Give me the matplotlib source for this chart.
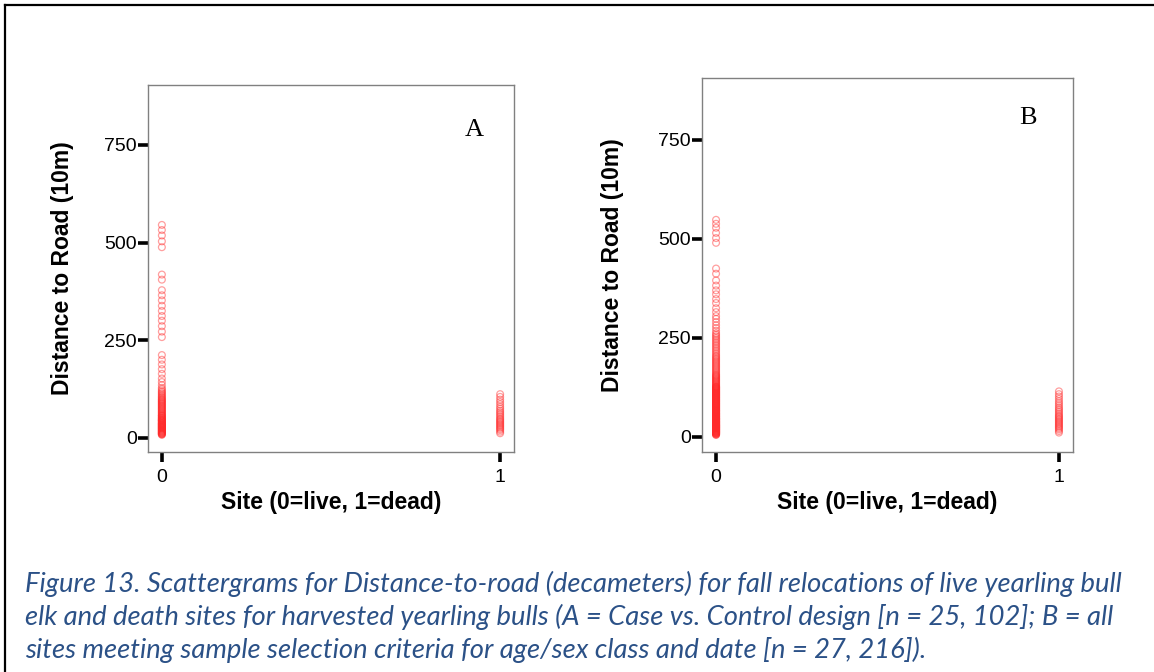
import matplotlib
matplotlib.use("Agg")
import matplotlib.pyplot as plt
from matplotlib.lines import Line2D

W, H = 1154, 672

# --- data (distance to road, decameters) ---
# Panel A: Case vs. Control design (n = 25 dead, 102 live)
a_live = [545, 532, 518, 503, 488, 418, 405, 378, 365, 352, 338, 325, 312,
          300, 286, 272, 258, 212, 200, 188, 176, 164, 152, 143, 135,
          128, 124, 120, 117, 114, 111, 108, 105, 103, 100,
          98, 96, 94, 92, 90, 88, 86, 84, 82, 80,
          78, 76, 74, 72, 70, 68, 66, 64, 62, 60,
          58, 57, 56, 54, 52, 51, 50, 48, 47, 46,
          44, 43, 42, 40, 39, 38, 36, 35, 34, 33,
          32, 31, 30, 29, 28, 27, 26, 25, 24, 23,
          22, 21, 20, 19, 18, 17, 16, 15, 14, 13,
          12, 11, 10, 9, 8, 37, 45]
a_dead = [112, 105, 98, 92, 86, 80, 75, 70, 66, 62, 58, 54, 50, 47, 44, 41,
          38, 35, 32, 29, 26, 23, 20, 16, 12]

# Panel B: all sites meeting selection criteria (n = 27 dead, 216 live)
b_live = [548, 538, 528, 515, 502, 490, 425, 412, 395, 382, 370, 360, 348,
          338, 325, 315, 305, 298, 290, 282, 275, 268,
          262, 258, 254, 250, 246, 242, 238, 234, 230, 226, 222, 218, 214,
          210, 206, 203, 200, 197, 194, 191, 188, 185, 182, 179, 176, 173,
          170, 167, 164, 161, 158, 156, 154, 152, 150, 148, 146, 144, 142,
          140, 138, 136, 134, 132, 130,
          128, 127, 126, 125, 124, 123, 122, 121, 120, 119,
          118, 117, 116, 115, 114, 113, 112, 111, 110, 109,
          108, 107, 106, 105, 104, 103, 102, 101, 100, 99,
          98, 97, 96, 95, 94, 93, 92, 91, 90, 89,
          88, 87, 86, 85, 84, 83, 82, 81, 80, 79,
          78, 77, 76, 75, 74, 73, 72, 71, 70, 69,
          68, 67, 66, 65, 64, 63, 62, 61, 60, 59,
          58, 57, 56, 55, 54, 53, 52, 51, 50, 49,
          48, 47, 46, 45, 44, 43, 42, 41, 40, 39,
          38, 37, 36, 35, 34, 33, 32, 31, 30, 29,
          28, 27, 26, 25, 24, 23, 22, 21, 20, 19,
          18, 17, 16, 15, 14, 13, 12, 11, 10, 9,
          8, 7, 6, 5, 66, 58, 52, 47, 43, 39, 35, 31, 28, 25, 22, 19, 16,
          13, 11, 9, 45, 38, 33, 29, 26, 23, 20, 17, 14]
b_dead = [115, 108, 102, 96, 90, 85, 80, 75, 71, 67, 63, 59, 55, 52, 49, 46,
          43, 40, 37, 34, 31, 28, 25, 22, 19, 15, 11]

y_ticks = [0, 250, 500, 750]
x_ticks = [0, 1]
panel_labels = ["A", "B"]
caption = [
    "Figure 13. Scattergrams for Distance-to-road (decameters) for fall relocations of live yearling bull",
    "elk and death sites for harvested yearling bulls (A = Case vs. Control design [n = 25, 102]; B = all",
    "sites meeting sample selection criteria for age/sex class and date [n = 27, 216]).",
]

plt.rcParams["font.family"] = ["Liberation Sans", "DejaVu Sans"]

fig = plt.figure(figsize=(W / 100, H / 100), dpi=100)


def px_axes(left, top, right, bottom):
    return fig.add_axes([left / W, 1 - bottom / H, (right - left) / W, (bottom - top) / H])


panels = [
    (px_axes(148, 85, 514, 452), a_live, a_dead, (-36, 903), (474, 130), 74),
    (px_axes(702, 78, 1073, 452), b_live, b_dead, (-38, 906), (1028, 118), 624),
]

for (ax, live, dead, ylim, lab_xy, ylab_x), lab in zip(panels, panel_labels):
    ax.scatter([0] * len(live), live, s=24, facecolors="none",
               edgecolors="#ff2a2a", linewidths=0.9, alpha=0.45)
    ax.scatter([1] * len(dead), dead, s=24, facecolors="none",
               edgecolors="#ff2a2a", linewidths=0.9, alpha=0.45)
    ax.set_xlim(-0.041, 1.041)
    ax.set_ylim(*ylim)
    ax.set_xticks(x_ticks)
    ax.set_yticks(y_ticks)
    for sp in ax.spines.values():
        sp.set_color("#808080")
        sp.set_linewidth(1.0)
    ax.tick_params(direction="out", length=7, width=2.6, color="black",
                   labelsize=14, pad=1)
    ax.tick_params(axis="x", pad=5)
    ax.set_xlabel("Site (0=live, 1=dead)", fontsize=16.5, fontweight="bold",
                  labelpad=4)
    ax.set_ylabel("Distance to Road (10m)", fontsize=16.5, fontweight="bold")
    pos = ax.get_position()
    ax.yaxis.set_label_coords((ylab_x - pos.x0 * W) / (pos.width * W), 0.5)
    fig.text(lab_xy[0] / W, 1 - lab_xy[1] / H, lab, family="Liberation Serif",
             fontsize=19, ha="center", va="center")

# outer frame (left and top edges visible in the source crop)
fig.add_artist(Line2D([5 / W, 5 / W], [0, 1 - 5 / H], color="black", lw=1.6))
fig.add_artist(Line2D([5 / W, 1], [1 - 5 / H, 1 - 5 / H], color="black", lw=1.6))

for i, line in enumerate(caption):
    fig.text(25 / W, 1 - (584 + 33 * i) / H, line, family="Lato", style="italic",
             fontsize=19.75, color="#2b5187", ha="left", va="center")

fig.savefig("out.png", dpi=100)
